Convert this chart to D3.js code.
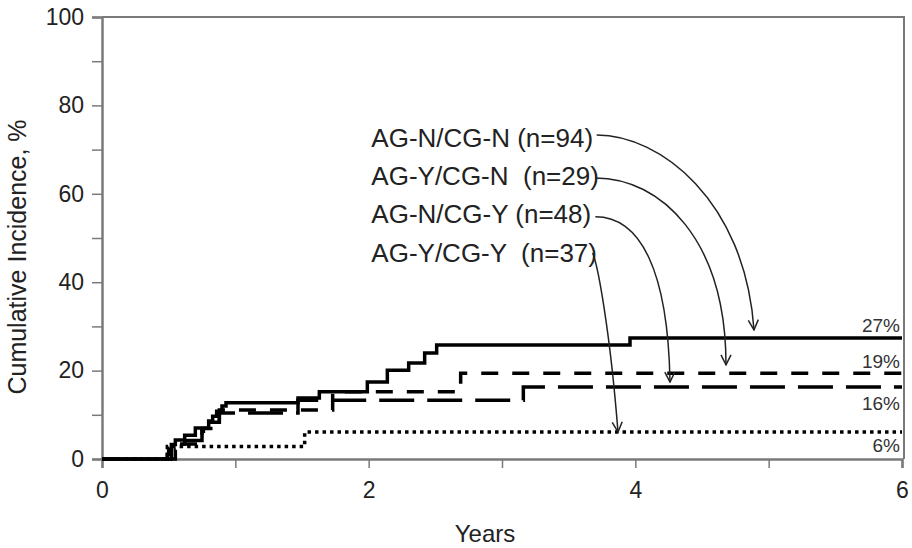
<!DOCTYPE html>
<html><head><meta charset="utf-8">
<script src="https://cdn.jsdelivr.net/npm/d3@7/dist/d3.min.js"></script>
<style>body{margin:0;background:#fff}svg{display:block}text{font-family:"Liberation Sans",Arial,sans-serif}</style>
</head><body>
<svg id="c" width="912" height="548"></svg>
<script>
// ---- data (years, cumulative incidence %) ----
const seriesNames = ["AG-N/CG-N (n=94)", "AG-Y/CG-N  (n=29)", "AG-N/CG-Y (n=48)", "AG-Y/CG-Y  (n=37)"];
const endLabels = ["27%", "19%", "16%", "6%"];
const timesA = [0, 0.49, 0.50, 0.52, 0.55, 0.62, 0.70, 0.80, 0.83, 0.86, 0.90, 0.93, 1.47, 1.63, 1.99, 2.14, 2.30, 2.42, 2.51, 3.96, 6.0];
const valuesA = [0, 1.1, 2.2, 3.3, 4.3, 5.4, 7.0, 8.6, 9.7, 10.8, 12.0, 12.7, 13.8, 15.2, 17.4, 20.1, 21.7, 24.0, 25.8, 27.4, 27.4];
const timesB = [0, 0.52, 0.75, 0.88, 1.73, 2.69, 6.0];
const valuesB = [0, 3.4, 6.9, 11.1, 15.2, 19.4, 19.4];
const timesC = [0, 0.55, 0.62, 0.75, 0.80, 0.88, 1.47, 3.16, 6.0];
const valuesC = [0, 2.1, 4.2, 6.3, 8.3, 10.4, 13.3, 16.3, 16.3];
const timesD = [0, 0.49, 1.52, 6.0];
const valuesD = [0, 2.8, 6.1, 6.1];
const endLabelValues = [28.7, 20.7, 11.0, 1.6];
const xTicks = [0, 2, 4, 6];
const xMinor = [1, 3, 5];
const yTicks = [0, 20, 40, 60, 80, 100];
const yMinor = [10, 30, 50, 70, 90];
// annotation anchors (data units): label start, arrow start, arrow tip
const labelPos = [[2.02, 70.6], [2.02, 62.0], [2.02, 53.4], [2.02, 44.6]];
const arrowStart = [[3.71, 73.3], [3.70, 63.6], [3.70, 54.8], [3.68, 46.6]];
const arrowTip = [[4.89, 29.2], [4.68, 21.3], [4.26, 17.4], [3.87, 6.1]];

const svg = d3.select("#c");
const x = d3.scaleLinear().domain([0, 6]).range([102, 902]);
const y = d3.scaleLinear().domain([0, 100]).range([459, 17]);
const axisCol = "#7a7a7a";

// frame (top, right)
svg.append("path").attr("d", `M${x(0)},${y(100)}H${x(6)+2}V${y(0)}`)
  .attr("fill", "none").attr("stroke", axisCol).attr("stroke-width", 2);

// y axis
const gy = svg.append("g").attr("transform", `translate(${x(0)},0)`)
  .call(d3.axisLeft(y).tickValues(yTicks).tickSize(10).tickPadding(8).tickFormat(d3.format("d")));
gy.append("g").call(d3.axisLeft(y).tickValues(yMinor).tickSize(10).tickFormat(""));
// x axis
const gx = svg.append("g").attr("transform", `translate(0,${y(0)})`)
  .call(d3.axisBottom(x).tickValues(xTicks).tickSize(9).tickPadding(14).tickFormat(d3.format("d")));
gx.append("g").call(d3.axisBottom(x).tickValues(xMinor).tickSize(9).tickFormat(""));
svg.selectAll(".domain").attr("stroke", axisCol).attr("stroke-width", 2);
svg.selectAll(".tick line").attr("stroke", axisCol).attr("stroke-width", 1.5);
svg.selectAll(".tick text").attr("font-size", 23).attr("fill", "#222")
  .attr("font-family", '"Liberation Sans",Arial,sans-serif');

// axis titles
svg.append("text").attr("x", (x(0)+x(6))/2 - 17).attr("y", 542).attr("text-anchor", "middle")
  .attr("font-size", 24).attr("fill", "#222").text("Years");
svg.append("text").attr("transform", `translate(26,${y(50)+19}) rotate(-90)`).attr("text-anchor", "middle")
  .attr("font-size", 25).attr("fill", "#222").text("Cumulative Incidence, %");

// curves
const line = d3.line().x(d => x(d[0])).y(d => y(d[1])).curve(d3.curveStepAfter);
const curves = [
  {t: timesA, v: valuesA, dash: null},
  {t: timesB, v: valuesB, dash: "17,14"},
  {t: timesC, v: valuesC, dash: "35,13"},
  {t: timesD, v: valuesD, dash: "3.5,4"}
];
curves.forEach(c => {
  const pts = c.t.map((t, i) => [t, c.v[i]]);
  svg.append("path").attr("d", line(pts)).attr("fill", "none").attr("stroke", "#000")
    .attr("stroke-width", 3.5).attr("stroke-dasharray", c.dash);
});

// end labels
endLabels.forEach((s, i) => {
  svg.append("text").attr("x", x(6) - 2).attr("y", y(endLabelValues[i])).attr("text-anchor", "end")
    .attr("font-size", 19).attr("fill", "#333").text(s);
});

// series labels
seriesNames.forEach((s, i) => {
  svg.append("text").attr("x", x(labelPos[i][0])).attr("y", y(labelPos[i][1]))
    .attr("font-size", 26).attr("fill", "#222").attr("xml:space", "preserve")
    .style("white-space", "pre").text(s);
});

// arrows
svg.append("defs").append("marker").attr("id", "ah").attr("viewBox", "0 0 12 12")
  .attr("refX", 11).attr("refY", 6).attr("markerWidth", 12).attr("markerHeight", 12)
  .attr("markerUnits", "userSpaceOnUse").attr("orient", "auto")
  .append("path").attr("d", "M1,1 L11,6 L1,11").attr("fill", "none").attr("stroke", "#222").attr("stroke-width", 1.5);
const ctrl = [[0.40, -9, 0.667], [0.50, 0, 0.67], [0.60, -2, 0.68], [0.2, -8, 0.57]];
arrowStart.forEach((s, i) => {
  const x0 = x(s[0]), y0 = y(s[1]), x3 = x(arrowTip[i][0]), y3 = y(arrowTip[i][1]);
  const c = ctrl[i];
  const x1 = x0 + c[0]*(x3-x0), y1 = i === 3 ? y0 + 12 : y0;
  const x2 = x3 + c[1], y2 = y3 - c[2]*(y3-y0);
  const p = d3.path(); p.moveTo(x0, y0); p.bezierCurveTo(x1, y1, x2, y2, x3, y3);
  svg.append("path").attr("d", p.toString()).attr("fill", "none").attr("stroke", "#222")
    .attr("stroke-width", 1.5).attr("marker-end", "url(#ah)");
});
</script>
</body></html>
